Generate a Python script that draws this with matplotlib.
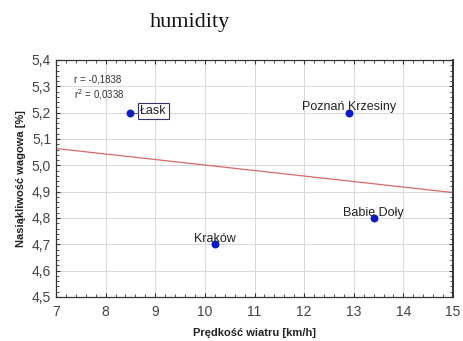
import matplotlib.pyplot as plt
import numpy as np
from matplotlib.ticker import MultipleLocator, FuncFormatter

# station data
stations = ["Łask", "Poznań Krzesiny", "Babie Doły", "Kraków"]
wind_speed = [8.5, 12.9, 13.4, 10.2]
humidity = [5.2, 5.2, 4.8, 4.7]

x = np.array(wind_speed)
y = np.array(humidity)
slope, intercept = np.polyfit(x, y, 1)
r = np.corrcoef(x, y)[0, 1]

plt.rcParams["font.family"] = ["Liberation Sans", "DejaVu Sans"]

fig = plt.figure(figsize=(4.63, 3.41), dpi=100)
ax = fig.add_axes([56 / 463, 1 - 297 / 341, 397 / 463, 237 / 341])

ax.set_xlim(7, 15)
ax.set_ylim(4.5, 5.4)

xs = np.array([7, 15])
ax.plot(xs, intercept + slope * xs, color="#d46a6a", lw=0.9, zorder=2)
ax.scatter(x, y, s=22, color="#0a1ad0", zorder=3)

# point labels
ax.text(8.7, 5.205, "Łask", fontsize=9, color="#222222", va="center", ha="left",
        bbox=dict(boxstyle="square,pad=0.15", fc="white", ec="#33336b", lw=0.8))
ax.plot([8.55, 8.66], [5.2, 5.2], color="#555555", lw=0.6, zorder=2)
ax.text(12.9, 5.198, "Poznań Krzesiny", fontsize=9, color="#222222",
        ha="center", va="bottom")
ax.text(13.4, 4.798, "Babie Doły", fontsize=9, color="#222222",
        ha="center", va="bottom")
ax.text(10.2, 4.698, "Kraków", fontsize=9, color="#222222",
        ha="center", va="bottom")

ax.text(0.045, 0.916, "r = " + f"{r:.4f}".replace(".", ","), transform=ax.transAxes,
        fontsize=7, color="#333333", va="center")
ax.text(0.045, 0.852, "r$^2$ = " + f"{r**2:.4f}".replace(".", ","),
        transform=ax.transAxes, fontsize=7, color="#333333", va="center")

ax.xaxis.set_major_locator(MultipleLocator(1))
ax.xaxis.set_minor_locator(MultipleLocator(0.2))
ax.yaxis.set_major_locator(MultipleLocator(0.1))
ax.yaxis.set_minor_locator(MultipleLocator(0.02))
ax.yaxis.set_major_formatter(FuncFormatter(lambda v, p: f"{v:.1f}".replace(".", ",")))
ax.xaxis.set_major_formatter(FuncFormatter(lambda v, p: f"{v:.0f}"))

ax.grid(True, which="major", color="#d8d8d8", lw=0.7)
ax.set_axisbelow(True)
ax.tick_params(which="both", direction="in", top=True, right=True,
               labelsize=10, labelcolor="#444444", color="#333333")
ax.tick_params(which="major", length=3)
ax.tick_params(which="minor", length=2)
ax.tick_params(axis="x", pad=6)
for s in ax.spines.values():
    s.set_color("#333333")
    s.set_linewidth(0.9)
ax.spines["right"].set_linewidth(1.4)

ax.set_xlabel("Prędkość wiatru [km/h]", fontsize=8, fontweight="bold",
              color="#222222", labelpad=6)
ax.set_ylabel("Nasiąkliwość wagowa [%]", fontsize=8, fontweight="bold",
              color="#222222", labelpad=4)

fig.text(150 / 463, 1 - 22 / 341, "humidity", family=["Liberation Serif"],
         fontsize=16, va="center", ha="left", color="#111111")

fig.savefig("out.png", dpi=100)
